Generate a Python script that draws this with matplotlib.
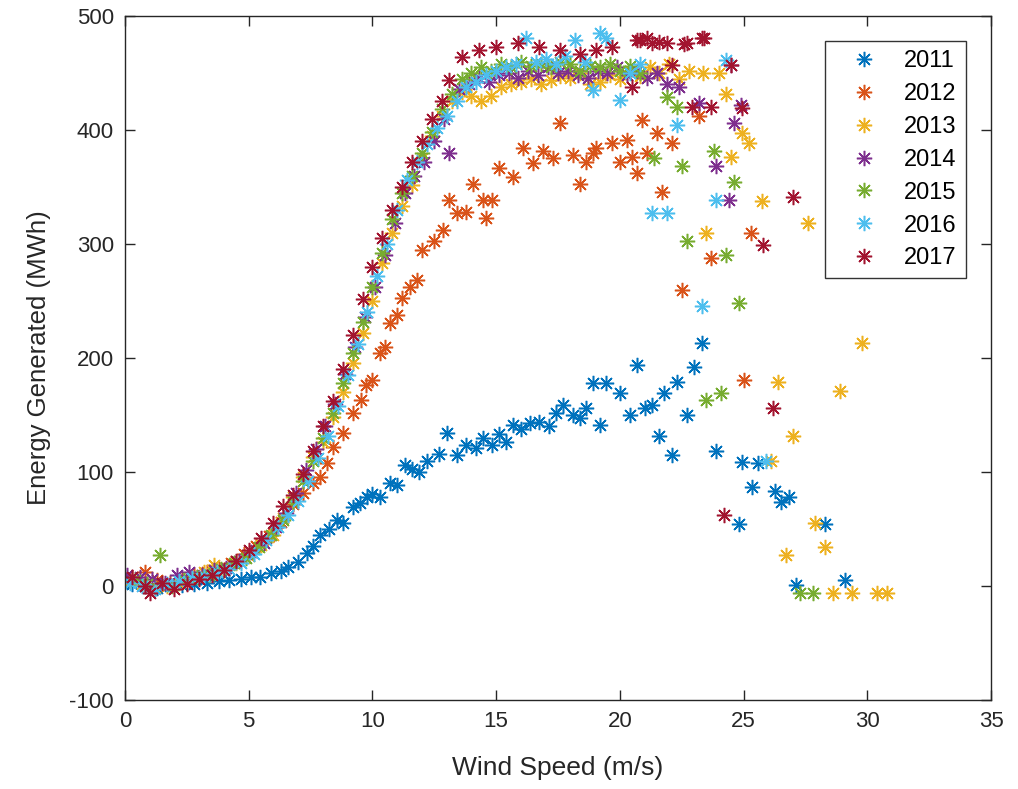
import matplotlib
matplotlib.use("Agg")
import matplotlib.pyplot as plt

plt.rcParams["font.family"] = ["Liberation Sans", "DejaVu Sans"]
plt.rcParams["axes.unicode_minus"] = False

years = ["2011", "2012", "2013", "2014", "2015", "2016", "2017"]
colors = ["#0072BD", "#D95319", "#EDB120", "#7E2F8E", "#77AC30", "#4DBEEE", "#A2142F"]

# wind speed (m/s) / energy (MWh)
x_2011 = [0.3, 0.8, 1.3, 1.8, 2.3, 2.8, 3.3, 3.8, 4.2, 4.7,
          5.1, 5.45, 5.9, 6.3, 6.6, 7.0, 7.35, 7.6, 7.9, 8.25,
          8.55, 8.8, 9.2, 9.5, 9.8, 10.0, 10.3, 10.7, 11.0, 11.3,
          11.6, 11.9, 12.2, 12.7, 13.0, 13.4, 13.8, 14.2, 14.45, 14.85,
          15.1, 15.4, 15.7, 16.0, 16.35, 16.75, 17.15, 17.4, 17.7, 18.1,
          18.4, 18.65, 18.9, 19.2, 19.45, 20.0, 20.4, 20.7, 21.0, 21.3,
          21.6, 21.8, 22.1, 22.3, 22.7, 23.0, 23.3, 23.9, 24.8, 24.95,
          25.35, 25.6, 26.25, 26.5, 26.85, 27.1, 28.3, 29.1]
y_2011 = [2, 0, -2, 0, 1, 2, 3, 4, 5, 6,
          8, 8, 11, 13, 17, 21, 29, 35, 45, 50,
          58, 55, 69, 73, 78, 81, 78, 90, 89, 106,
          103, 100, 110, 116, 134, 115, 124, 121, 130, 124,
          133, 126, 141, 138, 143, 144, 140, 152, 159, 150,
          147, 156, 178, 141, 178, 169, 150, 194, 156, 159,
          132, 169, 115, 179, 150, 192, 213, 118, 54, 109,
          87, 108, 83, 74, 78, 1, 54, 5]

x_2012 = [0.3, 0.8, 1.3, 1.8, 2.3, 2.8, 3.3, 3.8, 4.3, 4.8,
          5.3, 5.8, 6.3, 6.8, 7.2, 7.6, 7.9, 8.15, 8.4, 8.8,
          9.2, 9.55, 9.75, 10.0, 10.3, 10.5, 10.7, 11.0, 11.2, 11.5,
          11.8, 12.0, 12.5, 12.85, 13.1, 13.4, 13.8, 14.05, 14.45, 14.6,
          14.85, 15.1, 15.7, 16.1, 16.5, 16.9, 17.3, 17.6, 18.1, 18.4,
          18.65, 18.9, 19.05, 19.7, 20.0, 20.3, 20.5, 20.7, 20.9, 21.1,
          21.5, 21.7, 22.1, 22.5, 23.2, 23.7, 25.0, 25.3]
y_2012 = [8, 12, 5, 3, 6, 10, 12, 15, 20, 28,
          35, 44, 56, 72, 82, 90, 96, 108, 122, 134,
          152, 163, 176, 181, 204, 210, 231, 238, 253, 262,
          268, 295, 303, 312, 339, 327, 328, 353, 339, 323,
          339, 367, 359, 384, 371, 382, 375, 406, 378, 353,
          372, 380, 384, 389, 372, 391, 376, 362, 409, 380,
          397, 346, 389, 260, 412, 288, 181, 310]

x_2013 = [0.2, 0.7, 1.2, 1.7, 2.2, 2.7, 3.2, 3.6, 4.0, 4.5,
          5.0, 5.5, 6.0, 6.4, 6.8, 7.2, 7.6, 8.0, 8.4, 8.8,
          9.2, 9.6, 10.0, 10.4, 10.8, 11.2, 11.6, 12.0, 12.4, 12.8,
          13.2, 13.6, 14.0, 14.4, 14.8, 15.2, 15.6, 16.0, 16.4, 16.8,
          17.2, 17.6, 18.0, 18.4, 18.8, 19.2, 19.6, 20.0, 20.4, 20.8,
          21.2, 21.6, 22.0, 22.4, 22.8, 23.35, 23.5, 24.0, 24.3, 24.5,
          24.95, 25.2, 25.75, 26.1, 26.4, 26.7, 27.0, 27.6, 27.9, 28.3,
          28.6, 28.9, 29.4, 29.8, 30.4, 30.8]
y_2013 = [4, 2, -2, 0, 3, 8, 12, 18, 14, 20,
          26, 36, 45, 60, 78, 96, 113, 126, 148, 170,
          196, 222, 250, 283, 310, 333, 352, 375, 395, 412,
          425, 433, 430, 425, 430, 438, 440, 442, 445, 440,
          444, 447, 446, 450, 440, 442, 448, 445, 452, 447,
          455, 450, 458, 445, 452, 450, 310, 450, 432, 376,
          397, 389, 338, 110, 179, 27, 132, 318, 55, 34,
          -6, 171, -6, 213, -6, -6]

x_2014 = [0.1, 0.6, 1.1, 1.6, 2.1, 2.6, 3.1, 3.6, 4.1, 4.6,
          5.1, 5.6, 6.1, 6.5, 6.9, 7.3, 7.7, 8.1, 8.5, 8.9,
          9.3, 9.7, 10.1, 10.5, 10.9, 11.3, 11.7, 12.1, 12.5, 12.9,
          13.1, 13.5, 13.9, 14.3, 14.7, 15.1, 15.5, 15.9, 16.3, 16.7,
          17.1, 17.5, 17.9, 18.3, 18.7, 19.1, 19.5, 19.9, 20.3, 20.7,
          21.1, 21.5, 21.9, 22.4, 23.2, 23.9, 24.4, 24.6, 24.9, 24.5]
y_2014 = [10, 8, 6, 3, 10, 12, 10, 14, 16, 22,
          30, 38, 52, 64, 82, 102, 120, 140, 160, 186,
          210, 236, 262, 290, 318, 345, 360, 372, 390, 410,
          380, 436, 440, 446, 442, 448, 450, 446, 452, 448,
          455, 450, 452, 448, 446, 452, 450, 455, 448, 452,
          446, 450, 440, 438, 424, 368, 339, 406, 422, 457]

x_2015 = [0.4, 0.9, 1.4, 1.9, 2.4, 2.9, 3.4, 3.9, 4.4, 4.9,
          5.4, 5.9, 6.4, 6.8, 7.2, 7.6, 8.0, 8.4, 8.8, 9.2,
          9.6, 10.0, 10.4, 10.8, 11.2, 11.6, 12.0, 12.4, 12.8, 13.2,
          13.6, 14.0, 14.4, 14.8, 15.2, 15.6, 16.0, 16.4, 16.8, 17.2,
          17.6, 18.0, 18.4, 18.8, 19.2, 19.6, 20.0, 20.4, 20.8, 21.4,
          21.9, 22.3, 22.5, 22.7, 23.5, 23.8, 24.1, 24.3, 24.6, 24.8,
          27.3, 27.8]
y_2015 = [5, 2, 27, 0, 5, 8, 10, 15, 20, 25,
          34, 45, 58, 74, 92, 110, 130, 152, 178, 204,
          232, 262, 292, 322, 345, 360, 380, 398, 418, 432,
          445, 450, 455, 452, 458, 455, 460, 456, 458, 455,
          460, 458, 452, 456, 455, 458, 452, 456, 450, 375,
          429, 420, 368, 303, 163, 382, 169, 290, 354, 248,
          -6, -6]

x_2016 = [0.2, 0.7, 1.2, 1.7, 2.2, 2.7, 3.2, 3.7, 4.2, 4.7,
          5.2, 5.7, 6.2, 6.6, 7.0, 7.4, 7.8, 8.2, 8.6, 9.0,
          9.4, 9.8, 10.2, 10.6, 11.0, 11.4, 11.8, 12.2, 12.6, 13.0,
          13.4, 13.8, 14.2, 14.6, 15.0, 15.4, 15.8, 16.2, 16.6, 17.0,
          17.4, 17.8, 18.2, 18.6, 18.9, 19.2, 19.45, 20.0, 20.4, 20.8,
          21.3, 21.9, 22.3, 23.3, 23.9, 24.3, 25.9]
y_2016 = [3, 0, -3, 2, 4, 7, 9, 12, 15, 20,
          28, 40, 52, 62, 75, 92, 112, 132, 158, 185,
          212, 240, 272, 300, 330, 356, 372, 388, 402, 412,
          425, 438, 442, 448, 452, 455, 458, 481, 460, 462,
          458, 465, 479, 460, 435, 485, 481, 426, 450, 458,
          327, 327, 404, 246, 339, 461, 110]

x_2017 = [0.3, 0.8, 1.0, 1.5, 2.0, 2.5, 3.0, 3.5, 4.0, 4.5,
          5.0, 5.5, 6.0, 6.4, 6.8, 7.2, 7.6, 8.0, 8.4, 8.8,
          9.2, 9.6, 10.0, 10.4, 10.8, 11.2, 11.6, 12.0, 12.4, 12.8,
          13.1, 13.6, 14.3, 15.0, 15.9, 16.75, 17.6, 18.4, 19.05, 19.7,
          20.5, 20.7, 20.8, 21.1, 21.3, 21.6, 21.9, 22.1, 22.6, 22.7,
          22.9, 23.3, 23.4, 23.7, 24.2, 24.5, 24.95, 25.8, 26.2, 27.0]
y_2017 = [8, 0, -6, 3, -3, 2, 6, 10, 14, 22,
          32, 42, 55, 70, 80, 98, 118, 140, 162, 190,
          220, 252, 280, 305, 330, 350, 372, 390, 410, 425,
          444, 464, 470, 473, 476, 473, 470, 467, 470, 473,
          438, 479, 479, 481, 476, 477, 476, 457, 475, 476,
          420, 481, 481, 420, 62, 457, 419, 299, 156, 341]

series = [(x_2011, y_2011), (x_2012, y_2012), (x_2013, y_2013), (x_2014, y_2014),
          (x_2015, y_2015), (x_2016, y_2016), (x_2017, y_2017)]

fig = plt.figure(figsize=(10.18, 7.89), dpi=100)
ax = fig.add_axes([125 / 1018, 1 - 700 / 789, 866 / 1018, 684 / 789])

star = (8, 2, 0)
for (xs, ys), year, c in zip(series, years, colors):
    ax.plot(xs, ys, linestyle="none", marker=star, markersize=11,
            markeredgewidth=1.1, color=c, label=year)

ax.set_xlim(0, 35)
ax.set_ylim(-100, 500)
ax.set_xticks(range(0, 36, 5))
ax.set_yticks(range(-100, 501, 100))

dark = "#262626"
for s in ax.spines.values():
    s.set_color(dark)
    s.set_linewidth(1.0)
ax.tick_params(direction="in", length=7, width=1.0, colors=dark,
               labelsize=16, top=True, right=True, pad=8)
ax.set_xlabel("Wind Speed (m/s)", fontsize=19, color=dark, labelpad=17)
ax.set_ylabel("Energy Generated (MWh)", fontsize=18.5, color=dark, labelpad=13)

leg = ax.legend(loc="upper right", bbox_to_anchor=(0.971, 0.963), borderaxespad=0,
                fontsize=17, frameon=True, fancybox=False, edgecolor="black",
                handlelength=2.5, handletextpad=0.47, labelspacing=0.46,
                borderpad=0.38)
leg.get_frame().set_linewidth(1.0)

fig.savefig("out.png", dpi=100)
